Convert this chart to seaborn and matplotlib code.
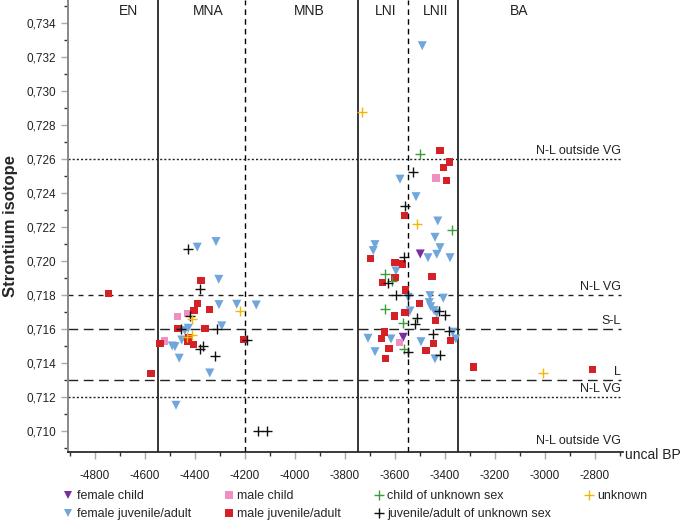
import matplotlib
import matplotlib.pyplot as plt
from matplotlib.lines import Line2D
from matplotlib.ticker import MultipleLocator, FuncFormatter
import pandas as pd
import seaborn as sns

# colours
purple = "#7b2d9e"
pink = "#ef8fc4"
green = "#3b9e3b"
yellow = "#f2b705"
blue = "#6fa6dc"
red = "#d42027"
black = "#111111"

# female child
fc_x = [-3499, -3567]
fc_y = [0.72041, 0.71551]
# male child
mc_x = [-4471, -4431, -4523, -3436, -3583]
mc_y = [0.71671, 0.71690, 0.71529, 0.72488, 0.71518]
# child of unknown sex
cu_x = [-3501, -3373, -3640, -3611, -3639, -3567, -3564]
cu_y = [0.72629, 0.72181, 0.71925, 0.71884, 0.71719, 0.71637, 0.71484]
# unknown
un_x = [-4220, -4411, -4411, -4433, -3731, -3512, -3010]
un_y = [0.71708, 0.71659, 0.71565, 0.71555, 0.72878, 0.72216, 0.71341]
# female juvenile/adult
fj_x = [-4391, -4316, -4305, -4304, -4233, -4155, -4427, -4441, -4293, -4453,
        -4491, -4480, -4463, -4341, -4476,
        -3491, -3580, -3516, -3429, -3440, -3680, -3687, -3420, -3433, -3468,
        -3380, -3596, -3547, -3460, -3407, -3463, -3457, -3444, -3433, -3540,
        -3369, -3357, -3708, -3616, -3496, -3680, -3440]
fj_y = [0.72081, 0.72114, 0.71892, 0.71743, 0.71745, 0.71741, 0.71604, 0.71590, 0.71618, 0.71535,
        0.71500, 0.71496, 0.71428, 0.71341, 0.71151,
        0.73266, 0.72481, 0.72378, 0.72235, 0.72139, 0.72096, 0.72061, 0.72078, 0.72039, 0.72019,
        0.72019, 0.71941, 0.71786, 0.71796, 0.71781, 0.71755, 0.71731, 0.71708, 0.71692, 0.71706,
        0.71581, 0.71541, 0.71545, 0.71541, 0.71525, 0.71466, 0.71424]
# male juvenile/adult
mj_x = [-4745, -4376, -4391, -4404, -4343, -4468, -4360, -4425, -4431, -4540,
        -4407, -4205, -4576,
        -3420, -3381, -3407, -3393, -3563, -3697, -3600, -3571, -3452, -3600,
        -3649, -3559, -3503, -3603, -3560, -3437, -3377, -3641, -3653, -3445,
        -3624, -3476, -3639, -3287, -2810]
mj_y = [0.71806, 0.71884, 0.71747, 0.71708, 0.71714, 0.71602, 0.71604, 0.71551, 0.71525, 0.71516,
        0.71510, 0.71539, 0.71337,
        0.72647, 0.72582, 0.72547, 0.72472, 0.72266, 0.72016, 0.71990, 0.71982, 0.71910, 0.71902,
        0.71872, 0.71829, 0.71751, 0.71676, 0.71696, 0.71649, 0.71531, 0.71582, 0.71541, 0.71514,
        0.71484, 0.71475, 0.71424, 0.71376, 0.71360]
# juvenile/adult of unknown sex
ju_x = [-4429, -4381, -4420, -4457, -4311, -4368, -4379, -4319, -4193, -4147, -4113,
        -3527, -3560, -3563, -3629, -3597, -3547, -3423, -3401, -3513, -3520,
        -3385, -3449, -3549, -3421]
ju_y = [0.72071, 0.71835, 0.71678, 0.71600, 0.71600, 0.71498, 0.71482, 0.71439, 0.71535, 0.71000, 0.71000,
        0.72525, 0.72325, 0.72024, 0.71869, 0.71802, 0.71802, 0.71708, 0.71684, 0.71663, 0.71629,
        0.71590, 0.71571, 0.71463, 0.71445]

# period boundaries and labels
bound_solid = [-4550, -3750, -3350]
bound_dash = [-4200, -3550]
period_names = ["EN", "MNA", "MNB", "LNI", "LNII", "BA"]
period_pos = [-4668, -4346, -3942, -3638, -3436, -3102]

# reference levels
ref_vals = [0.726, 0.718, 0.716, 0.713, 0.712]
ref_names = ["N-L outside VG", "N-L VG", "S-L", "L", "N-L VG"]
ref_styles = [(0, (1.5, 1.5)), (0, (3.6, 3.6)), (0, (7, 4)), (0, (7, 4)), (0, (1.5, 1.5))]

groups = [
    ("female child", fc_x, fc_y, purple, "v", 42),
    ("female juvenile/adult", fj_x, fj_y, blue, "v", 42),
    ("male child", mc_x, mc_y, pink, "s", 26),
    ("male juvenile/adult", mj_x, mj_y, red, "s", 26),
    ("child of unknown sex", cu_x, cu_y, green, "+", 48),
    ("juvenile/adult of unknown sex", ju_x, ju_y, black, "+", 48),
    ("unknown", un_x, un_y, yellow, "+", 48),
]

sns.set_theme(style="white")
plt.rcParams['font.family'] = ['Liberation Sans', 'DejaVu Sans']
plt.rcParams['axes.unicode_minus'] = False

fig = plt.figure(figsize=(6.85, 5.3), dpi=100)
ax = fig.add_axes([68 / 685, 1 - 452 / 530, 555 / 685, 452 / 530])

for name, xs, ys, col, mk, sz in groups:
    df = pd.DataFrame({"year": xs, "sr": ys})
    if mk == "+":
        sns.scatterplot(data=df, x="year", y="sr", marker="+", s=sz, color=col,
                        linewidth=1.0, ax=ax, zorder=3)
    else:
        sns.scatterplot(data=df, x="year", y="sr", marker=mk, s=sz, color=col,
                        edgecolor="none", ax=ax, zorder=3)

for xv in bound_solid:
    ax.axvline(xv, color="black", lw=1.1, zorder=1)
for xv in bound_dash:
    ax.axvline(xv, color="black", lw=1.0, ls=(0, (4, 3)), zorder=1)

for v, nm, st in zip(ref_vals, ref_names, ref_styles):
    ax.axhline(v, xmin=0, xmax=0.996, color="#222222", lw=1.0, ls=st, zorder=1)
    ax.text(-2696, v + 0.00012, nm, ha="right", va="bottom", fontsize=9, color="#222222")
ax.text(-2696, 0.70905, "N-L outside VG", ha="right", va="bottom", fontsize=9, color="#222222")

for nm, xp in zip(period_names, period_pos):
    ax.text(xp, 0.9915, nm, transform=ax.get_xaxis_transform(), ha="center", va="top",
            fontsize=10, color="#222222")

ax.set_xlim(-4908, -2688)
ax.set_ylim(0.70876, 0.73535)
ax.xaxis.set_major_locator(MultipleLocator(200))
ax.xaxis.set_minor_locator(MultipleLocator(100))
ax.yaxis.set_major_locator(MultipleLocator(0.002))
ax.yaxis.set_minor_locator(MultipleLocator(0.001))
ax.yaxis.set_major_formatter(FuncFormatter(lambda v, p: ("%.3f" % v).replace(".", ",")))
ax.xaxis.set_major_formatter(FuncFormatter(lambda v, p: "%d" % v))
ax.tick_params(axis="both", which="major", direction="out", length=5, width=1,
               color="#aaaaaa", labelsize=8.5, labelcolor="#222222", bottom=True, left=True)
ax.tick_params(axis="both", which="minor", direction="out", length=3, width=1,
               color="#333333", bottom=True, left=True)
ax.tick_params(axis="x", which="major", pad=8)
sns.despine(ax=ax)
ax.spines["left"].set_color("#888888")
ax.spines["left"].set_linewidth(1.4)
ax.spines["bottom"].set_color("#222222")
ax.set_xlabel("")
ax.set_ylabel("Strontium isotope", fontsize=12, fontweight="bold", labelpad=6)
fig.text(625 / 685, 1 - 455 / 530, "uncal BP", fontsize=10, va="center", ha="left", color="#222222")

handles = [Line2D([], [], ls="none", marker=mk, color=col, markersize=6 if mk != "+" else 7,
                  markeredgewidth=1.0 if mk == "+" else 0, label=name)
           for name, xs, ys, col, mk, sz in groups]
fig.legend(handles=handles, loc="lower left", bbox_to_anchor=(63 / 685, 10 / 530), ncol=4,
           frameon=False, fontsize=9, handlelength=0.8, handletextpad=0.3,
           columnspacing=2.6, labelspacing=0.45, borderpad=0, borderaxespad=0)

fig.savefig("out.png", dpi=100)
